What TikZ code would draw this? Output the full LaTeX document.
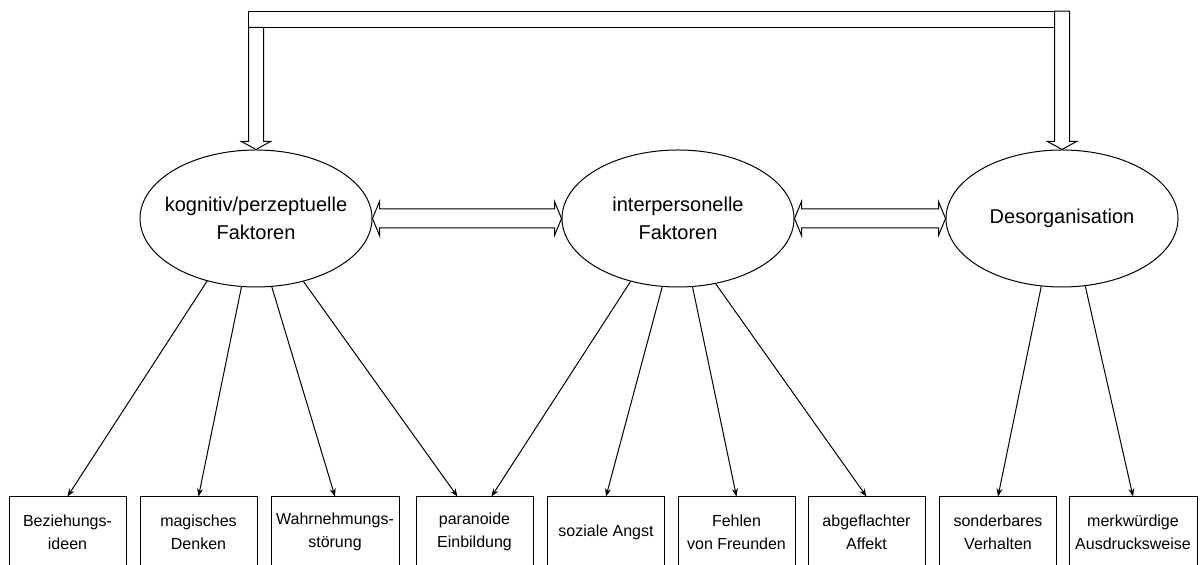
\documentclass[tikz,border=0pt]{standalone}
\usepackage{fontspec}
\setmainfont{Liberation Sans}
\usetikzlibrary{shapes.geometric,arrows.meta,calc}

\begin{document}
\begin{tikzpicture}[x=0.5pt, y=-0.5pt,
  factor/.style = {draw, ellipse, line width=0.5pt, minimum width=116pt, minimum height=68.5pt, inner sep=0pt},
  factortext/.style = {align=center, font=\fontsize{10}{14}\selectfont},
  item/.style = {draw, rectangle, line width=0.5pt, minimum width=58.5pt, minimum height=35pt, inner sep=0pt, align=center, font=\fontsize{8}{11.5}\selectfont},
  wideitem/.style = {item, minimum width=64pt},
  link/.style = {-{Stealth[length=4pt, width=3pt]}, line width=0.5pt},
  hollow/.style = {draw, fill=white, line width=0.5pt}]
\useasboundingbox (0,0) rectangle (1204,565);

% factors
\node[factor, label={[factortext]center:{kognitiv/perzeptuelle\\Faktoren}}] (kog) at (256,218.5) {};
\node[factor, label={[factortext]center:{interpersonelle\\Faktoren}}] (inter) at (678,218.5) {};
\node[factor, label={[factortext]center:{Desorganisation}}] (des) at (1062,218.5) {};

% items
\node[item] (bez) at (67.5,532) {Beziehungs-\\ideen};
\node[item] (mag) at (198.5,532) {magisches\\Denken};
\node[wideitem] (wahr) at (335,532) {Wahrnehmungs-\\störung};
\node[item] (para) at (474.5,532) {paranoide\\Einbildung};
\node[item] (angst) at (606,532) {soziale Angst};
\node[item] (freund) at (736.5,532) {Fehlen\\von Freunden};
\node[item] (affekt) at (866.5,532) {abgeflachter\\Affekt};
\node[item] (verh) at (998,532) {sonderbares\\Verhalten};
\node[wideitem] (ausdr) at (1133,532) {merkwürdige\\Ausdrucksweise};

% loadings
\draw[link] (kog.232) -- (bez.north);
\draw[link] (kog.258) -- (mag.north);
\draw[link] (kog.283) -- (wahr.north);
\draw[link] (kog.307) -- ($(para.north)+(-17,0)$);
\draw[link] (inter.233) -- ($(para.north)+(17,0)$);
\draw[link] (inter.257) -- (angst.north);
\draw[link] (inter.282) -- (freund.north);
\draw[link] (inter.300) -- (affekt.north);
\draw[link] (des.253) -- (verh.north);
\draw[link] (des.289) -- (ausdr.north);

% correlations
\draw[hollow] (kog.east) -- ++(7,-17) -- ++(0,7.5) -- ($(inter.west)+(-7,-9.5)$) -- ++(0,-7.5) -- (inter.west)
  -- ++(-7,17) -- ++(0,-7.5) -- ($(kog.east)+(7,9.5)$) -- ++(0,7.5) -- cycle;
\draw[hollow] (inter.east) -- ++(7,-17) -- ++(0,7.5) -- ($(des.west)+(-7,-9.5)$) -- ++(0,-7.5) -- (des.west)
  -- ++(-7,17) -- ++(0,-7.5) -- ($(inter.east)+(7,9.5)$) -- ++(0,7.5) -- cycle;

% top bracket
\draw[hollow] ($(kog.north)+(-7.5,-138.3)$) rectangle ($(des.north)+(7.5,-122)$);
\draw[hollow] (kog.north) -- ++(-14.5,-8) -- ++(7,0) -- ++(0,-114) -- ++(15,0) -- ++(0,114) -- ++(7,0) -- cycle;
\draw[hollow] (des.north) -- ++(-14.5,-8) -- ++(7,0) -- ++(0,-130.3) -- ++(15,0) -- ++(0,130.3) -- ++(7,0) -- cycle;
\end{tikzpicture}
\end{document}
